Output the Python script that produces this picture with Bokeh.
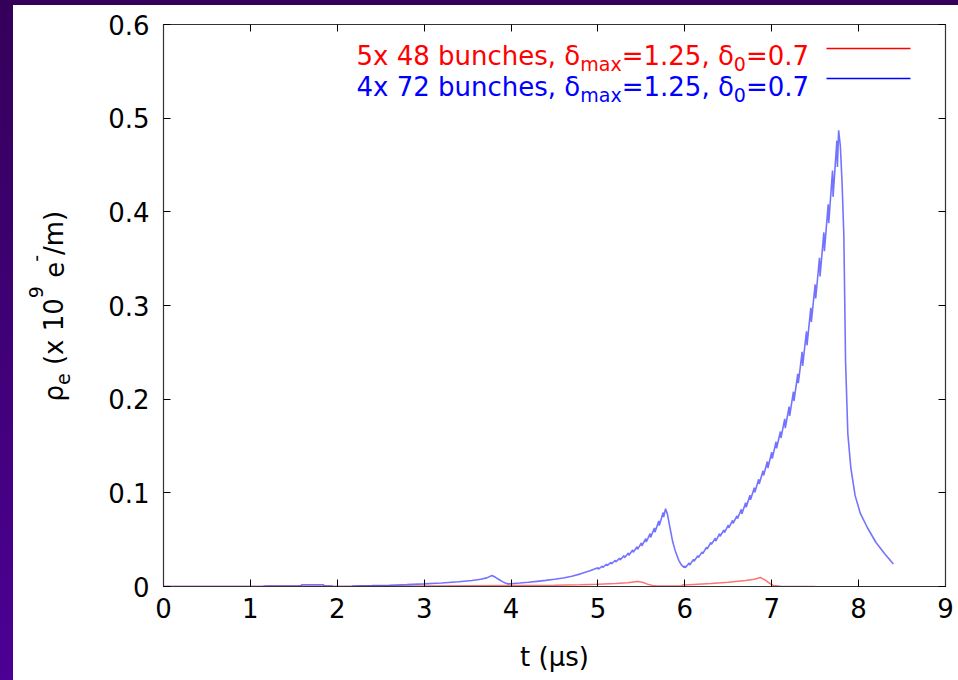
from math import pi

from bokeh.plotting import figure
from bokeh.models import Range1d, FixedTicker, LinearAxis, Label, CustomJSTickFormatter, Spacer
from bokeh.layouts import row, column
from bokeh.embed import file_html
from bokeh.resources import INLINE

# ---------------------------------------------------------------------------
# Electron-cloud density rho_e (x 1e9 e-/m) versus time t (micro-seconds)
# ---------------------------------------------------------------------------

# 4 trains of 72 bunches
t_72 = [
    0.0, 1.15, 1.16, 1.58, 1.59, 1.84, 1.85, 1.94, 1.95, 2.17, 2.18, 2.4, 2.6, 2.8,
    3.0, 3.2, 3.4, 3.55, 3.65, 3.72, 3.78, 3.82, 3.86, 3.9, 3.94, 3.97,
    4.0, 4.1, 4.2, 4.3, 4.4, 4.5, 4.6, 4.7, 4.8, 4.9,
    5.000, 5.006, 5.050, 5.056, 5.100, 5.106, 5.150, 5.156, 5.200, 5.206,
    5.250, 5.256, 5.300, 5.306, 5.350, 5.356, 5.400, 5.406, 5.450, 5.456,
    5.500, 5.506, 5.550, 5.556, 5.600, 5.606, 5.650, 5.656, 5.700, 5.706,
    5.750, 5.756, 5.778,
    5.80, 5.835, 5.86, 5.89, 5.93, 5.96, 5.99,
    6.000, 6.006, 6.050, 6.056, 6.100, 6.106, 6.150, 6.156, 6.200, 6.206,
    6.250, 6.256, 6.300, 6.306, 6.350, 6.356, 6.400, 6.406, 6.450, 6.456,
    6.500, 6.506, 6.550, 6.556, 6.600, 6.606, 6.650, 6.656, 6.700, 6.706,
    6.750, 6.756, 6.800, 6.806, 6.850, 6.856, 6.900, 6.906, 6.950, 6.956,
    7.000, 7.006, 7.050, 7.056, 7.100, 7.106, 7.150, 7.156, 7.200, 7.206,
    7.250, 7.256, 7.300, 7.306, 7.350, 7.356, 7.400, 7.406, 7.450, 7.456,
    7.500, 7.506, 7.550, 7.556, 7.600, 7.606, 7.650, 7.656, 7.700, 7.706,
    7.750, 7.756, 7.770,
    7.79, 7.81, 7.83, 7.85, 7.876, 7.91, 7.96, 8.02, 8.1, 8.2, 8.3, 8.4,
]
rho_72 = [
    0.0, 0.0, 0.0006, 0.0006, 0.0018, 0.0018, 0.0005, 0.0005, 0.0, 0.0, 0.0005, 0.0009, 0.0014, 0.002,
    0.0028, 0.0038, 0.005, 0.0064, 0.0078, 0.0092, 0.0117, 0.0098, 0.0075, 0.0052, 0.0035, 0.0028,
    0.0030, 0.0037, 0.0045, 0.0055, 0.0065, 0.0077, 0.0090, 0.0110, 0.0135, 0.0165,
    0.0200, 0.0185, 0.0218, 0.0203, 0.0238, 0.0222, 0.0258, 0.0242, 0.0280, 0.0262,
    0.0303, 0.0283, 0.0330, 0.0308, 0.0358, 0.0334, 0.0390, 0.0364, 0.0425, 0.0397,
    0.0465, 0.0433, 0.0510, 0.0475, 0.0565, 0.0525, 0.0625, 0.0580, 0.0700, 0.0650,
    0.0790, 0.0740, 0.0830,
    0.077, 0.060, 0.048, 0.038, 0.028, 0.023, 0.0205,
    0.022, 0.020, 0.025, 0.023, 0.029, 0.027, 0.033, 0.031, 0.037, 0.035,
    0.042, 0.040, 0.047, 0.045, 0.0515, 0.0485, 0.0565, 0.0535, 0.0605, 0.0575,
    0.0655, 0.0625, 0.0705, 0.0675, 0.0755, 0.0725, 0.0825, 0.0775, 0.0895, 0.0845,
    0.0975, 0.0925, 0.1055, 0.1005, 0.1145, 0.1095, 0.1235, 0.1185, 0.1335, 0.1265,
    0.1435, 0.1365, 0.1545, 0.1475, 0.1655, 0.1585, 0.179, 0.169, 0.192, 0.182,
    0.208, 0.198, 0.227, 0.217, 0.2505, 0.2355, 0.2725, 0.2575, 0.2975, 0.2825,
    0.3225, 0.3075, 0.351, 0.331, 0.378, 0.358, 0.408, 0.388, 0.444, 0.416,
    0.476, 0.448, 0.487,
    0.47, 0.43, 0.375, 0.24, 0.163, 0.127, 0.097, 0.078, 0.063, 0.047, 0.035, 0.024,
]

# 5 trains of 48 bunches
t_48 = [
    0.0, 1.19, 1.2, 1.93, 1.94, 2.5, 3.0, 3.5, 4.0, 4.5, 4.8, 5.0, 5.2, 5.34, 5.46,
    5.52, 5.57, 5.63, 5.68, 5.8, 5.96, 5.97, 6.1, 6.3, 6.5, 6.7, 6.8, 6.87,
    6.93, 6.98, 7.02, 7.1, 7.26, 7.5,
]
rho_48 = [
    0.0, 0.0, 0.0004, 0.0004, 0.0001, 0.0003, 0.0005, 0.0007, 0.001, 0.0014, 0.002, 0.0025, 0.0033, 0.004, 0.0053,
    0.0042, 0.0025, 0.0012, 0.0005, 0.0005, 0.0006, 0.0015, 0.0022, 0.0032, 0.0045, 0.0065, 0.0078, 0.0096,
    0.0065, 0.003, 0.0011, 0.0004, 0.0001, 0.0,
]

x_ticks = [0, 1, 2, 3, 4, 5, 6, 7, 8, 9]
y_ticks = [0, 0.1, 0.2, 0.3, 0.4, 0.5, 0.6]

FONT = "DejaVu Sans"
RED = "#ff0000"
BLUE = "#0000ff"

# page geometry (pixels): plot frame spans x 163..945, y 24..586 of the page
STRIP_L, STRIP_T = 13, 5
TITLE_W = 67                       # width of the panel holding the y-axis title
FRAME_L, FRAME_R, FRAME_T, FRAME_B = 163, 945, 24, 586
X0, X1, Y0, Y1 = 0.0, 9.0, 0.0, 0.6
PANEL_H = 680 - STRIP_T


def sx(px):
    """page pixel column -> data x"""
    return X0 + (px - FRAME_L) * (X1 - X0) / (FRAME_R - FRAME_L)


def sy(py):
    """page pixel row -> data y"""
    return Y0 + (FRAME_B - py) * (Y1 - Y0) / (FRAME_B - FRAME_T)


plot_left = STRIP_L + TITLE_W
p = figure(
    width=958 - plot_left,
    height=PANEL_H,
    x_range=Range1d(X0, X1),
    y_range=Range1d(Y0, Y1),
    output_backend="svg",
    toolbar_location=None,
    min_border_left=FRAME_L - plot_left,
    min_border_right=958 - FRAME_R,
    min_border_top=FRAME_T - STRIP_T,
    min_border_bottom=680 - FRAME_B,
    background_fill_color="white",
    border_fill_color="white",
)
p.grid.visible = False
p.outline_line_color = "#333333"
p.outline_line_width = 1.2

for ax in (p.xaxis[0], p.yaxis[0]):
    ax.axis_line_color = "#333333"
    ax.major_tick_in = 7
    ax.major_tick_out = 0
    ax.major_tick_line_color = "black"
    ax.minor_tick_line_color = None
    ax.major_label_text_font = FONT
    ax.major_label_text_font_size = "26px"
    ax.major_label_text_color = "black"

p.xaxis.ticker = FixedTicker(ticks=x_ticks)
p.yaxis.ticker = FixedTicker(ticks=y_ticks)
p.xaxis.major_label_standoff = 11
p.yaxis.major_label_standoff = 14
p.yaxis.major_label_overrides = {0: "0"}

p.xaxis.axis_label = "t (\u03bcs)"
p.xaxis.axis_label_text_font = FONT
p.xaxis.axis_label_text_font_size = "26px"
p.xaxis.axis_label_text_font_style = "normal"
p.xaxis.axis_label_text_color = "black"
p.xaxis.axis_label_standoff = 21

# mirrored tick marks on the top and right edges
blank = CustomJSTickFormatter(code="return ''")
top_ax = LinearAxis(ticker=FixedTicker(ticks=x_ticks), formatter=blank)
right_ax = LinearAxis(ticker=FixedTicker(ticks=y_ticks), formatter=blank)
for ax in (top_ax, right_ax):
    ax.axis_line_color = "#333333"
    ax.major_tick_in = 7
    ax.major_tick_out = 0
    ax.major_tick_line_color = "black"
    ax.minor_tick_line_color = None
    ax.major_label_standoff = 0
    ax.major_label_text_font_size = "0px"
p.add_layout(top_ax, "above")
p.add_layout(right_ax, "right")

# data curves (thin, semi-transparent so the bunch-by-bunch sawtooth shows as a band)
p.line(t_48, rho_48, line_color=RED, line_width=1.5, line_alpha=0.55)
p.line(t_72, rho_72, line_color=BLUE, line_width=1.6, line_alpha=0.55)


def text(fig, x, y, s, size, color, angle=0.0, align="left"):
    fig.add_layout(Label(
        x=x, y=y, text=s,
        text_font=FONT, text_font_size=f"{size}px", text_color=color,
        text_align=align, text_baseline="alphabetic",
        angle=angle,
    ))


# legend: text pieces with subscripts, then a key line
LEGEND_WIDTHS = {"\u03b4": 0.613, "max": 2.179, "=1.25, ": 3.70, "0": 0.636, "=0.7": 2.428}


def legend_row(label, color, base, key_y):
    main, sub = 26, 19
    widths = dict(LEGEND_WIDTHS, **{label: 7.995})
    x = 356.0
    for s, size, drop in [
        (label, main, 0), ("\u03b4", main, 0), ("max", sub, 8), ("=1.25, ", main, 0),
        ("\u03b4", main, 0), ("0", sub, 8), ("=0.7", main, 0),
    ]:
        text(p, sx(x), sy(base + drop), s, size, color)
        x += widths[s] * size
    p.line([sx(826), sx(910)], [sy(key_y), sy(key_y)], line_color=color, line_width=1.3)


legend_row("5x 48 bunches, ", RED, 55, 48)
legend_row("4x 72 bunches, ", BLUE, 86, 78)

# y-axis title panel: same vertical borders as the plot, so its frame rows are
# the plot-frame rows; data coordinates are page pixels (y pointing down)
title_fig = figure(
    width=TITLE_W, height=PANEL_H,
    x_range=Range1d(STRIP_L, plot_left),
    y_range=Range1d(FRAME_B, FRAME_T),
    x_axis_type=None, y_axis_type=None,
    min_border_left=0, min_border_right=0,
    min_border_top=FRAME_T - STRIP_T, min_border_bottom=680 - FRAME_B,
    outline_line_color=None,
    background_fill_color="white", border_fill_color="white",
    output_backend="svg", toolbar_location=None,
)
title_fig.grid.visible = False

SPACE = 0.318
y_pos = 401.0
for s, size, base_x, em in [
    ("\u03c1", 26, 53, 0.635),
    ("e", 19, 62, 0.615),
    (None, 26, 0, SPACE),
    ("(x 10", 26, 53, 2.572),
    ("9", 19, 35, 0.636),
    (None, 26, 0, SPACE),
    ("e", 26, 53, 0.615),
    ("-", 19, 35, 0.361),
    ("/m)", 26, 53, 1.701),
]:
    if s is not None:
        text(title_fig, base_x, y_pos, s, size, "black", angle=pi / 2)
    y_pos -= em * size

left_strip = Spacer(width=STRIP_L, height=680,
                    styles={"background": "linear-gradient(to bottom, #34005a, #4c0094)"})
top_strip = Spacer(width=958 - STRIP_L, height=STRIP_T, styles={"background": "#34005a"})
page = row(left_strip, column(top_strip, row(title_fig, p, spacing=0), spacing=0), spacing=0)

open("out.html", "w").write(file_html(page, INLINE))
